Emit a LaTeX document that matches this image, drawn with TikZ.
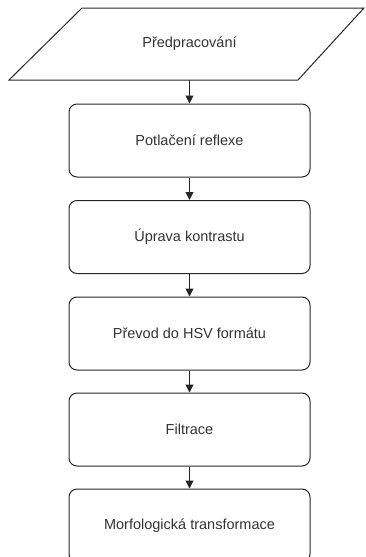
\documentclass[tikz,border=0pt]{standalone}
\usepackage{fontspec}
\setmainfont{Liberation Sans}
\usetikzlibrary{arrows.meta}
\definecolor{txt}{HTML}{333333}
\begin{document}
\begin{tikzpicture}[x=1pt,y=-1pt,
  proc/.style={draw=black!85, line width=1pt, rounded corners=8pt, minimum width=241pt, minimum height=73pt, inner sep=0pt, text=txt, font=\fontsize{14.5}{17}\selectfont},
  io/.style={text=txt, font=\fontsize{14.5}{17}\selectfont},
  conn/.style={draw=black!85, line width=1pt, -{Triangle[length=8pt,width=8pt]}}]
\useasboundingbox (0,0) rectangle (366,557);
\draw[line width=1pt, draw=black!85] (82,8) -- (364,8) -- (298,80) -- (9,80) -- cycle;
\node[io] (p0) at (189.5,44) {Předpracování};
\coordinate (p0b) at (189.5,80);
\node[proc] (p1) at (189.5,140.5) {Potlačení reflexe};
\node[proc] (p2) at (189.5,237) {Úprava kontrastu};
\node[proc] (p3) at (189.5,333.5) {Převod do HSV formátu};
\node[proc] (p4) at (189.5,429.5) {Filtrace};
\node[proc] (p5) at (189.5,525.5) {Morfologická transformace};
\draw[conn] (p0b) -- (p1.north);
\draw[conn] (p1) -- (p2);
\draw[conn] (p2) -- (p3);
\draw[conn] (p3) -- (p4);
\draw[conn] (p4) -- (p5);
\end{tikzpicture}
\end{document}
